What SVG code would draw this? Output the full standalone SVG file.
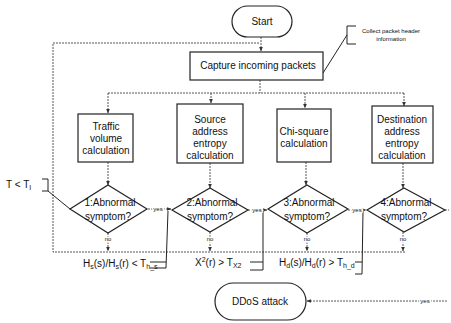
<svg xmlns="http://www.w3.org/2000/svg" width="451" height="323" viewBox="0 0 451 323">
<style>
text{font-family:"Liberation Sans",Arial,sans-serif;fill:#111}
.b{font-size:10px;text-anchor:middle}
.s{font-size:6px;text-anchor:middle}
.t{font-size:10px}
.sub{font-size:7px}
.shape{fill:#fff;stroke:#222;stroke-width:1.2}
.c{fill:none;stroke:#444;stroke-width:0.9;stroke-dasharray:2 1}
.a{fill:none;stroke:#444;stroke-width:0.9;stroke-dasharray:2 1;marker-end:url(#ar)}
.k{fill:none;stroke:#222;stroke-width:1}
.h{paint-order:stroke;stroke:#fff;stroke-width:3px}
</style>
<defs>
<marker id="ar" viewBox="0 0 6 6" refX="5.5" refY="3" markerWidth="5" markerHeight="5" orient="auto"><path d="M0,0.5 L6,3 L0,5.5 z" fill="#333"/></marker>
</defs>
<rect width="451" height="323" fill="#fff"/>
<g id="connectors">
<path class="a" d="M261,37 V51"/>
<path class="c" d="M405,252 H53 V43 H260"/>
<path class="c" d="M260,80 V93 M108,93 H405"/>
<path class="a" d="M108,93 V113"/>
<path class="a" d="M211,93 V103"/>
<path class="a" d="M305,93 V108"/>
<path class="a" d="M404,93 V106"/>
<path class="a" d="M108,162 V185"/>
<path class="a" d="M210,163 V188"/>
<path class="a" d="M306,162 V185"/>
<path class="a" d="M403,163 V188"/>
<path class="a" d="M148,209 H171"/>
<path class="a" d="M248,210 H267"/>
<path class="a" d="M348,210 H366"/>
<path class="c" d="M445,210 H449"/>
<path class="a" d="M108,233 V251"/>
<path class="a" d="M210,232 V251"/>
<path class="a" d="M307,233 V251"/>
<path class="a" d="M403,232 V251"/>
<path class="a" d="M447,301 H307"/>
<path class="k" d="M168,211 L166,268 M150,262 H166 M150,268 H166"/>
<path class="k" d="M263,211 V270 M250,262 H263 M250,270 H263"/>
<path class="k" d="M363,211 L362,274 M355,262 H362 M355,274 H362"/>
<path class="k" d="M42,179 H48 V191 H42 M48,191 L70,209"/>
<path class="k" d="M323,73 L347,35 M356,26 H347 V44 H356"/>
<text class="s h" x="158" y="211">yes</text>
<text class="s h" x="257" y="212">yes</text>
<text class="s h" x="357" y="212">yes</text>
<text class="s h" x="108" y="241">no</text>
<text class="s h" x="210" y="241">no</text>
<text class="s h" x="307" y="241">no</text>
<text class="s h" x="403" y="241">no</text>
<text class="s h" x="425" y="303">yes</text>
</g>
<g id="start">
<rect class="shape" x="232" y="6" width="60" height="31" rx="15.5"/>
<text class="b" x="262" y="25">Start</text>
</g>
<g id="capture">
<rect class="shape" x="190" y="52" width="133" height="28"/>
<text class="b" x="258" y="69">Capture incoming packets</text>
</g>
<g id="note">
<text class="s" x="391" y="33">Collect packet header</text>
<text class="s" x="391" y="41">information</text>
</g>
<g id="traffic">
<rect class="shape" x="78" y="114" width="55" height="48"/>
<text class="b" x="106" y="130">Traffic</text>
<text class="b" x="106" y="142">volume</text>
<text class="b" x="106" y="154">calculation</text>
</g>
<g id="source">
<rect class="shape" x="177" y="104" width="66" height="59"/>
<text class="b" x="210" y="123">Source</text>
<text class="b" x="210" y="135">address</text>
<text class="b" x="210" y="147">entropy</text>
<text class="b" x="210" y="159">calculation</text>
</g>
<g id="chisquare">
<rect class="shape" x="277" y="109" width="54" height="53"/>
<text class="b" x="304" y="135">Chi-square</text>
<text class="b" x="304" y="147">calculation</text>
</g>
<g id="destination">
<rect class="shape" x="372" y="106" width="61" height="57"/>
<text class="b" x="402" y="123">Destination</text>
<text class="b" x="402" y="135">address</text>
<text class="b" x="402" y="147">entropy</text>
<text class="b" x="402" y="159">calculation</text>
</g>
<g id="d1">
<path class="shape" d="M108,185 L147,209 L108,233 L70,209 Z"/>
<text class="b" x="110" y="206">1:Abnormal</text>
<text class="b" x="108" y="220">symptom?</text>
</g>
<g id="d2">
<path class="shape" d="M210,188 L248,210 L210,232 L172,210 Z"/>
<text class="b" x="212" y="206">2:Abnormal</text>
<text class="b" x="210" y="220">symptom?</text>
</g>
<g id="d3">
<path class="shape" d="M307,185 L348,209 L307,233 L268,209 Z"/>
<text class="b" x="309" y="206">3:Abnormal</text>
<text class="b" x="307" y="220">symptom?</text>
</g>
<g id="d4">
<path class="shape" d="M404,188 L445,210 L404,232 L367,210 Z"/>
<text class="b" x="406" y="206">4:Abnormal</text>
<text class="b" x="404" y="220">symptom?</text>
</g>
<g id="thresholds">
<text class="t" x="6" y="188">T &lt; T<tspan class="sub" dy="2">I</tspan></text>
<text class="t" x="83" y="267">H<tspan class="sub" dy="2">s</tspan><tspan dy="-2">(s)/H</tspan><tspan class="sub" dy="2">s</tspan><tspan dy="-2">(r) &lt; T</tspan><tspan class="sub" dy="2">h_s</tspan></text>
<text class="t" x="195" y="266">X<tspan class="sub" dy="-4">2</tspan><tspan dy="4">(r) &gt; T</tspan><tspan class="sub" dy="2">X2</tspan></text>
<text class="t" x="279" y="266">H<tspan class="sub" dy="2">d</tspan><tspan dy="-2">(s)/H</tspan><tspan class="sub" dy="2">d</tspan><tspan dy="-2">(r) &gt; T</tspan><tspan class="sub" dy="2">h_d</tspan></text>
</g>
<g id="ddos">
<rect class="shape" x="215" y="283" width="91" height="37" rx="18.5"/>
<text class="b" x="260" y="305">DDoS attack</text>
</g>
</svg>
